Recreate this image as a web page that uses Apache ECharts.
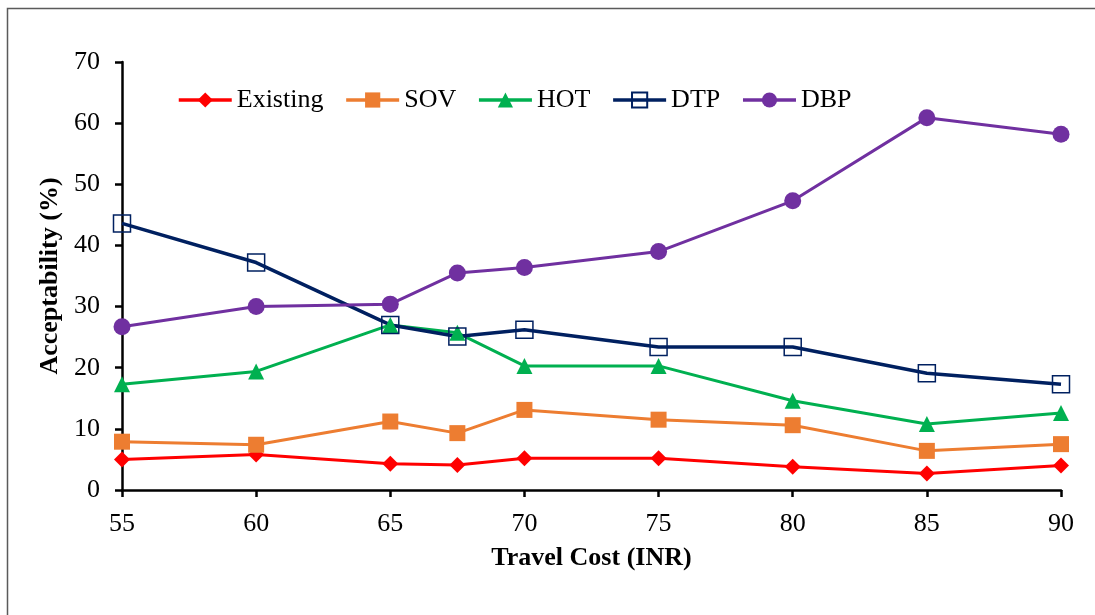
<!DOCTYPE html>
<html>
<head>
<meta charset="utf-8">
<script src="https://cdn.jsdelivr.net/npm/echarts@6/dist/echarts.min.js"></script>
<style>
  html, body { margin: 0; padding: 0; background: #fff; }
  #chart { width: 1095px; height: 615px; }
</style>
</head>
<body>
<div id="chart"></div>
<script>
// Travel cost levels (INR)
const travelCost = [55, 60, 65, 67.5, 70, 75, 80, 85, 90];

// Acceptability (%) per pricing scheme
const existing = [5.0, 5.8, 4.3, 4.1, 5.2, 5.2, 3.8, 2.7, 4.0];
const sov      = [7.9, 7.4, 11.2, 9.3, 13.1, 11.5, 10.6, 6.4, 7.5];
const hot      = [17.3, 19.4, 27.0, 25.7, 20.3, 20.3, 14.6, 10.8, 12.6];
const dtp      = [43.6, 37.2, 27.0, 25.1, 26.2, 23.4, 23.4, 19.1, 17.3];
const dbp      = [26.7, 30.0, 30.4, 35.5, 36.4, 39.0, 47.3, 60.9, 58.2];

const seriesNames = ['Existing', 'SOV', 'HOT', 'DTP', 'DBP'];

const FONT = '"Liberation Serif", "Times New Roman", serif';

function pairs(values) {
  return travelCost.map((x, i) => [x, values[i]]);
}

function lineSeries(name, values, color, symbol, size, extra) {
  return Object.assign({
    name: name,
    type: 'line',
    data: pairs(values),
    symbol: symbol,
    symbolSize: size,
    lineStyle: { color: color, width: 3 },
    itemStyle: { color: color },
    emphasis: { disabled: true }
  }, extra || {});
}

const chart = echarts.init(document.getElementById('chart'), null, { renderer: 'canvas' });

chart.setOption({
  animation: false,
  backgroundColor: '#ffffff',
  graphic: [{
    type: 'rect',
    shape: { x: 7.5, y: 8.5, width: 1200, height: 700 },
    style: { fill: 'none', stroke: '#5a5a5a', lineWidth: 1.5 },
    silent: true
  }],
  legend: {
    data: seriesNames,
    left: 177,
    top: 87,
    padding: 0,
    itemWidth: 53,
    itemHeight: 19,
    itemGap: 21,
    lineStyle: { width: 3.5 },
    textStyle: { fontFamily: FONT, fontSize: 26, color: '#000' }
  },
  grid: { left: 122, right: 34, top: 62, bottom: 125 },
  xAxis: {
    type: 'value',
    min: 55,
    max: 90,
    interval: 5,
    name: 'Travel Cost (INR)',
    nameLocation: 'middle',
    nameGap: 55,
    nameTextStyle: { fontFamily: FONT, fontSize: 26, fontWeight: 'bold', color: '#000' },
    axisLine: { onZero: false, lineStyle: { color: '#000', width: 2.5 } },
    axisTick: { show: true, length: 7, lineStyle: { color: '#000', width: 2.5 } },
    axisLabel: { margin: 21, fontFamily: FONT, fontSize: 26, color: '#000' },
    splitLine: { show: false }
  },
  yAxis: {
    type: 'value',
    min: 0,
    max: 70,
    interval: 10,
    name: 'Acceptability (%)',
    nameLocation: 'middle',
    nameGap: 54,
    nameTextStyle: { fontFamily: FONT, fontSize: 26, fontWeight: 'bold', color: '#000' },
    axisLine: { show: true, lineStyle: { color: '#000', width: 2.5 } },
    axisTick: { show: true, length: 7, lineStyle: { color: '#000', width: 2.5 } },
    axisLabel: { margin: 22, fontFamily: FONT, fontSize: 26, color: '#000' },
    splitLine: { show: false }
  },
  series: [
    lineSeries('Existing', existing, '#ff0000', 'diamond', 16),
    lineSeries('SOV', sov, '#ed7d31', 'rect', 16),
    lineSeries('HOT', hot, '#00b050', 'triangle', 16),
    lineSeries('DTP', dtp, '#002060', 'rect', 17, {
      lineStyle: { color: '#002060', width: 3.5 },
      itemStyle: { color: 'rgba(0,0,0,0)', borderColor: '#002060', borderWidth: 1.5 }
    }),
    lineSeries('DBP', dbp, '#7030a0', 'circle', 17)
  ]
});
</script>
</body>
</html>
